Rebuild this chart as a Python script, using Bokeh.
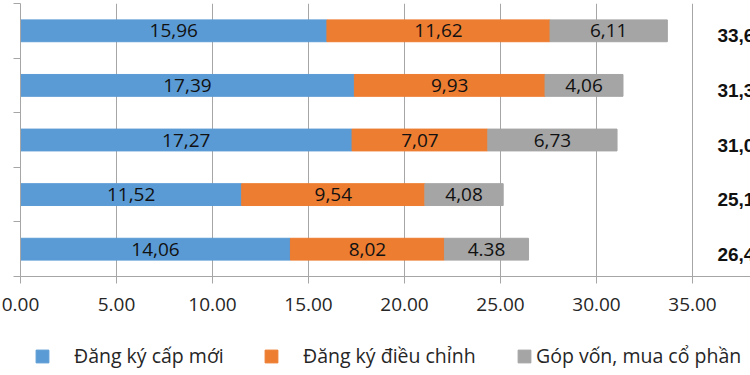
from bokeh.plotting import figure
from bokeh.layouts import column
from bokeh.models import (ColumnDataSource, Legend, LegendItem, FixedTicker,
                          NumeralTickFormatter, CustomJSTickFormatter, Range1d)
from bokeh.core.properties import value
from bokeh.embed import file_html
from bokeh.resources import INLINE

# ---- data (rows listed top to bottom) ----
series = ["Đăng ký cấp mới", "Đăng ký điều chỉnh", "Góp vốn, mua cổ phần"]
new_reg = [15.96, 17.39, 17.27, 11.52, 14.06]
adjust = [11.62, 9.93, 7.07, 9.54, 8.02]
capital = [6.11, 4.06, 6.73, 4.08, 4.38]
new_lbl = ["15,96", "17,39", "17,27", "11,52", "14,06"]
adj_lbl = ["11,62", "9,93", "7,07", "9,54", "8,02"]
cap_lbl = ["6,11", "4,06", "6,73", "4,08", "4.38"]
x_ticks = [0, 5, 10, 15, 20, 25, 30, 35]
colors = ["#5B9BD5", "#ED7D31", "#A5A5A5"]

n = len(new_reg)
ypos = [n - i - 0.5 for i in range(n)]
l1 = [0.0] * n
r1 = new_reg
r2 = [a + b for a, b in zip(new_reg, adjust)]
r3 = [a + b for a, b in zip(r2, capital)]
totals = [f"{t:.2f}".replace(".", ",") for t in r3]

src = ColumnDataSource(dict(
    y=ypos, l1=l1, r1=r1, r2=r2, r3=r3,
    m1=[(a + b) / 2 for a, b in zip(l1, r1)],
    m2=[(a + b) / 2 for a, b in zip(r1, r2)],
    m3=[(a + b) / 2 for a, b in zip(r2, r3)],
    t1=new_lbl, t2=adj_lbl, t3=cap_lbl, tt=totals,
    tx=[36.3] * n,
))

W = 750
H1, H2 = 330, 45
FL, FT, FB = 20, 3, 54
px_per_unit = 19.2
x_end = (W - FL) / px_per_unit

p = figure(width=W, height=H1, output_backend="svg", toolbar_location=None,
           x_range=Range1d(0, x_end), y_range=Range1d(0, n),
           min_border_left=FL, min_border_right=0, min_border_top=FT,
           min_border_bottom=FB)
p.outline_line_color = None
p.background_fill_color = "white"
p.border_fill_color = "white"

grid_col = "#A6A6A6"
p.xaxis.ticker = FixedTicker(ticks=x_ticks)
p.xaxis.formatter = NumeralTickFormatter(format="0.00")
p.xaxis.axis_line_color = grid_col
p.xaxis.major_tick_line_color = grid_col
p.xaxis.major_tick_out = 7
p.xaxis.major_tick_in = 0
p.xaxis.minor_tick_line_color = None
p.xaxis.major_label_text_font = "Open Sans"
p.xaxis.major_label_text_font_size = "19px"
p.xaxis.major_label_text_color = "#262626"
p.xaxis.major_label_standoff = 14

p.yaxis.ticker = FixedTicker(ticks=list(range(n + 1)))
p.yaxis.formatter = CustomJSTickFormatter(code="return ''")
p.yaxis.major_label_text_font_size = "0px"
p.yaxis.major_label_standoff = 0
p.yaxis.axis_line_color = grid_col
p.yaxis.major_tick_line_color = grid_col
p.yaxis.major_tick_out = 7
p.yaxis.major_tick_in = 0
p.yaxis.minor_tick_line_color = None

p.xgrid.ticker = FixedTicker(ticks=x_ticks)
p.xgrid.grid_line_color = grid_col
p.ygrid.grid_line_color = None

bh = 0.4
p.hbar(y="y", left="l1", right="r1", height=bh, color=colors[0], source=src)
p.hbar(y="y", left="r1", right="r2", height=bh, color=colors[1], source=src)
p.hbar(y="y", left="r2", right="r3", height=bh, color=colors[2], source=src)

for xm, tcol in (("m1", "t1"), ("m2", "t2"), ("m3", "t3")):
    p.text(x=xm, y="y", text=tcol, source=src, text_align="center",
           text_baseline="middle", text_font=value("Open Sans"),
           text_font_size="19px", text_color="#111111")

p.text(x="tx", y="y", text="tt", source=src, text_align="left",
       text_baseline="middle", text_font=value("Liberation Sans"),
       text_font_style="bold", text_font_size="19px", text_color="#111111",
       y_offset=5)

# ---- legend strip below the chart ----
p2 = figure(width=W, height=H2, output_backend="svg", toolbar_location=None,
            x_range=Range1d(-100, -99), y_range=Range1d(-20, -19),
            x_axis_location=None, y_axis_location=None,
            min_border_left=FL, min_border_right=0, min_border_top=0,
            min_border_bottom=0)
p2.outline_line_color = None
p2.grid.grid_line_color = None
lg1 = p2.hbar(y="y", left="l1", right="r1", height=bh, color=colors[0], source=src)
lg2 = p2.hbar(y="y", left="r1", right="r2", height=bh, color=colors[1], source=src)
lg3 = p2.hbar(y="y", left="r2", right="r3", height=bh, color=colors[2], source=src)

leg_specs = [(lg1, series[0], 14, 24), (lg2, series[1], 243, 24),
             (lg3, series[2], 496, 4)]
for g, name, lx, so in leg_specs:
    lg = Legend(items=[LegendItem(label=name, renderers=[g])],
                location=(lx, 6), orientation="horizontal",
                glyph_width=16, glyph_height=16, label_height=16,
                label_standoff=so, padding=0, margin=0, spacing=0,
                border_line_color=None, background_fill_alpha=0,
                label_text_font="Open Sans", label_text_font_size="19.5px",
                label_text_color="#262626")
    p2.add_layout(lg, "center")

open("out.html", "w").write(file_html(column(p, p2, spacing=0), INLINE))
